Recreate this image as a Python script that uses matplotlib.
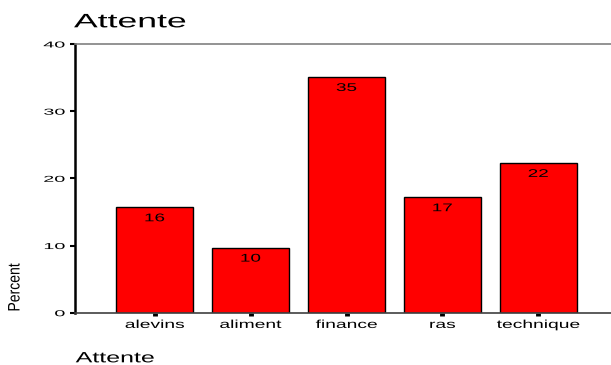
import matplotlib
matplotlib.use("Agg")
import matplotlib.pyplot as plt
from matplotlib.patheffects import AbstractPathEffect
from matplotlib.transforms import Affine2D

# Data
categories = ["alevins", "aliment", "finance", "ras", "technique"]
percent = [15.7, 9.7, 35.1, 17.2, 22.3]
yticks = [0, 10, 20, 30, 40]

plt.rcParams["font.family"] = ["Liberation Sans", "DejaVu Sans"]


class Stretch(AbstractPathEffect):
    """Scale glyph outlines along the text direction (wide SPSS-style lettering)."""

    def __init__(self, sx=1.0, sy=1.0, anchor="center"):
        super().__init__()
        self.sx, self.sy, self.anchor = sx, sy, anchor

    def draw_path(self, renderer, gc, tpath, affine, rgbFace=None):
        ext = tpath.get_extents()
        if self.anchor == "left":
            cx = ext.x0
        elif self.anchor == "right":
            cx = ext.x1
        else:
            cx = 0.5 * (ext.x0 + ext.x1)
        t = Affine2D().translate(-cx, 0).scale(self.sx, self.sy).translate(cx, 0) + affine
        renderer.draw_path(gc, tpath, t, rgbFace)


W, H = 611, 365
fig = plt.figure(figsize=(W / 100, H / 100), dpi=100)
ax = fig.add_axes([75 / W, 1 - 312.7 / H, 1 - 75 / W, (312.7 - 44) / H])

x = list(range(len(categories)))
ax.bar(x, percent, width=0.806, color="#ff0000", edgecolor="black", linewidth=1.0, zorder=2)

for xi, v in zip(x, percent):
    t = ax.annotate(f"{v:.0f}", xy=(xi, v), xytext=(0, -10.1), textcoords="offset points",
                    ha="center", va="baseline", fontsize=8, color="black")
    t.set_path_effects([Stretch(1.7, anchor="center")])

ax.set_xlim(-0.831, 4.758)
ax.set_ylim(0, 40)
ax.set_yticks(yticks)
ax.set_xticks(x)
ax.set_xticklabels(categories)

ax.spines["right"].set_visible(False)
ax.spines["left"].set_color("black")
ax.spines["left"].set_linewidth(1.8)
ax.spines["top"].set_color("#808080")
ax.spines["top"].set_linewidth(1.2)
ax.spines["bottom"].set_color("#404040")
ax.spines["bottom"].set_linewidth(1.2)

ax.tick_params(axis="y", length=3.6, width=1.5, color="black", pad=3.6, labelsize=6.2)
ax.tick_params(axis="x", length=2.0, width=3.5, color="black", pad=2.5, labelsize=8.3)

for lbl in ax.get_yticklabels():
    lbl.set_path_effects([Stretch(2.3, anchor="right")])
for lbl in ax.get_xticklabels():
    lbl.set_path_effects([Stretch(1.67, anchor="center")])

title = fig.text(74 / W, 1 - 27.3 / H, "Attente", ha="left", va="baseline", fontsize=14)
title.set_path_effects([Stretch(1.83, anchor="left")])

xlab = fig.text(75.7 / W, 1 - 362.3 / H, "Attente", ha="left", va="baseline", fontsize=10.7)
xlab.set_path_effects([Stretch(1.68, anchor="left")])

ylab = fig.text(15 / W, 1 - 287.5 / H, "Percent", ha="center", va="center", rotation=90, fontsize=12)
ylab.set_path_effects([Stretch(0.84, anchor="center")])

fig.savefig("out.png", dpi=100)
